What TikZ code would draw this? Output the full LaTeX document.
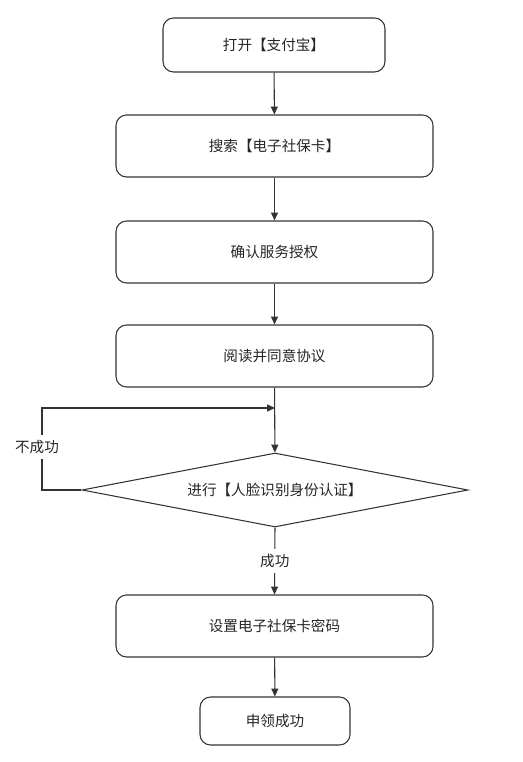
\documentclass[tikz,border=0pt]{standalone}
\usepackage{fontspec}
\newfontfamily\cjk{Noto Sans CJK SC}
\usepackage{tikz}
\usetikzlibrary{arrows.meta,shapes.geometric}

\begin{document}
\begin{tikzpicture}[x=1cm,y=1cm,font=\cjk\fontsize{8.3}{10}\selectfont,>={Triangle[length=4.5pt,width=4pt]},
    blk/.style={draw=black!80, line width=0.6pt, rounded corners=6pt, fill=white, align=center, text=black!85, minimum height=1.24cm},
    dec/.style={draw=black!80, line width=0.6pt, diamond, aspect=5.2, inner sep=0pt, text=black!85, minimum width=7.72cm, minimum height=1.48cm},
    lbl/.style={fill=white, text=black!85, inner sep=3pt},
    con/.style={draw=black!80, line width=0.6pt}]
  \useasboundingbox (0,0) rectangle (10.44,15.24);
  % ---------- steps ----------
  \node[blk, minimum width=4.44cm, minimum height=1.08cm] (open)   at (5.48,14.34) {打开【支付宝】};
  \node[blk, minimum width=6.34cm] (search) at (5.49,12.32) {搜索【电子社保卡】};
  \node[blk, minimum width=6.34cm] (auth)   at (5.49,10.20) {确认服务授权};
  \node[blk, minimum width=6.34cm] (agree)  at (5.49,8.12)  {阅读并同意协议};
  \node[dec] (face) at (5.50,5.44) {进行【人脸识别身份认证】};
  \node[blk, minimum width=6.34cm] (pwd)    at (5.49,2.72)  {设置电子社保卡密码};
  \node[blk, minimum width=3.0cm, minimum height=0.96cm] (done) at (5.50,0.82) {申领成功};
  % ---------- loop points ----------
  \coordinate (retry) at (face.north |- 0,7.08);
  \coordinate (back)  at (0.84,7.08);
  % ---------- signals ----------
  \draw[con, ->] (open) -- (search);
  \draw[con, ->] (search) -- (auth);
  \draw[con, ->] (auth) -- (agree);
  \draw[con, ->] (agree) -- (face);
  \draw[con, ->] (face.west) -| node[lbl, pos=0.76, xshift=-0.1cm]{不成功} (back) -- (retry);
  \draw[con, ->] (face.south) -- node[lbl]{成功} (pwd.north);
  \draw[con, ->] (pwd) -- (done);
\end{tikzpicture}
\end{document}
